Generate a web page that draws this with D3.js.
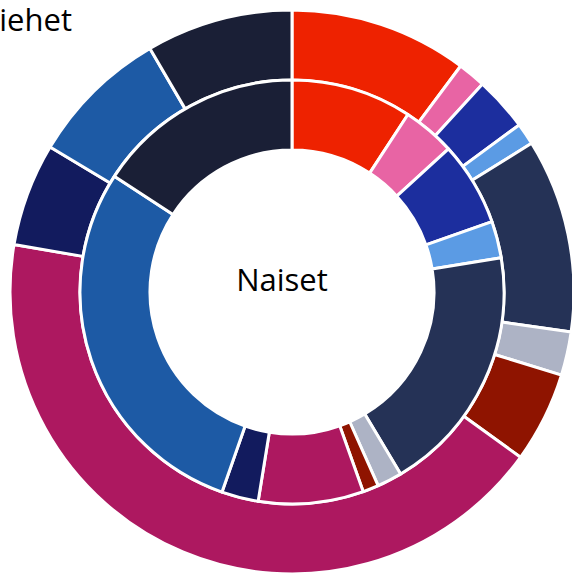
<!DOCTYPE html>
<html><head><meta charset="utf-8">
<script src="https://cdn.jsdelivr.net/npm/d3@7"></script>
<style>html,body{margin:0;padding:0;background:#fff;overflow:hidden}</style>
</head><body>
<svg id="c" width="572" height="573"></svg>
<script>
const categories = ["Luokka 1","Luokka 2","Luokka 3","Luokka 4","Luokka 5","Luokka 6","Luokka 7","Luokka 8","Luokka 9","Luokka 10","Luokka 11"];
const colors = ["#ee2200","#e864a4","#1c2e9e","#5b9be4","#253256","#adb3c5","#8f1400","#ad1860","#121b5e","#1d5aa5","#1a1f36"];
const miehet = [10.2,1.6,3.1,1.25,11.1,2.5,5.2,42.7,5.9,8.0,8.4];
const naiset = [9.2,4.0,6.4,2.8,19.0,1.9,1.2,8.0,2.8,28.8,15.8];
const seriesNames = ["Miehet","Naiset"];

const svg = d3.select("#c");
const cx = 292, cy = 292;
const g = svg.append("g").attr("transform", `translate(${cx},${cy})`);
const pie = d3.pie().sort(null).value(d => d.v);

function ring(vals, r0, r1){
  const data = pie(vals.map((v,i)=>({v, c: colors[i], name: categories[i]})));
  const arc = d3.arc().innerRadius(r0).outerRadius(r1);
  g.append("g").selectAll("path").data(data).join("path")
    .attr("d", arc)
    .attr("fill", d => d.data.c)
    .attr("stroke", "#fff")
    .attr("stroke-width", 3)
    .attr("stroke-linejoin", "round");
}
ring(miehet, 212, 282);
ring(naiset, 142, 212);

svg.append("text").attr("x", cx - 10).attr("y", 291)
  .attr("text-anchor","middle")
  .attr("font-family","'Open Sans', sans-serif").attr("font-size", 31)
  .attr("fill","#000").text(seriesNames[1]);
svg.append("text").attr("x", 72).attr("y", 31)
  .attr("text-anchor","end")
  .attr("font-family","'Open Sans', sans-serif").attr("font-size", 31)
  .attr("fill","#000").text(seriesNames[0]);
</script>
</body></html>
